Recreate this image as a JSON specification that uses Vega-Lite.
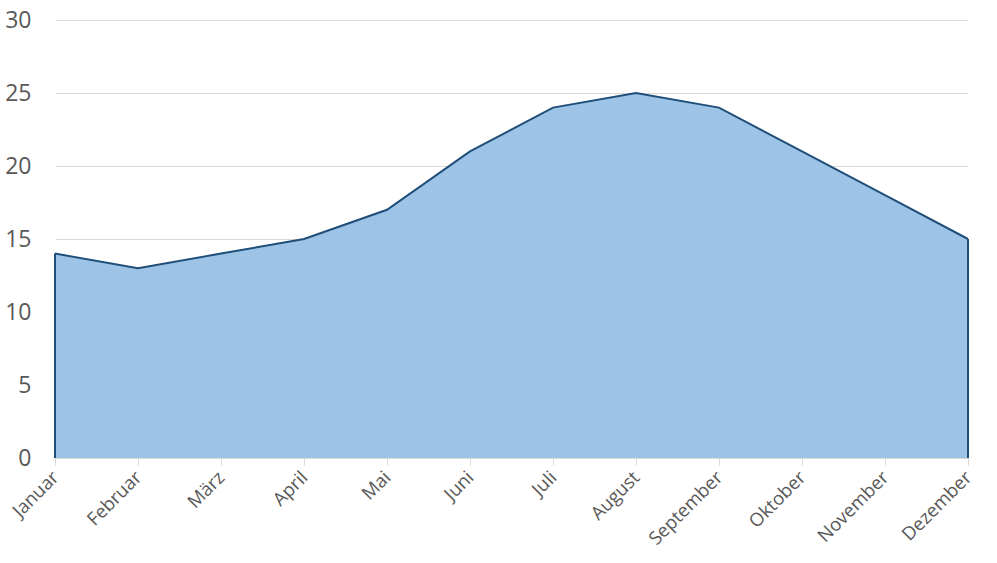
{
  "$schema": "https://vega.github.io/schema/vega-lite/v6.json",
  "width": 913,
  "height": 438,
  "autosize": {"type": "none"},
  "padding": {"left": 55, "top": 20, "right": 29, "bottom": 105},
  "background": "white",
  "config": {
    "view": {"stroke": null},
    "font": "Open Sans"
  },
  "data": {
    "values": [
      {"Monat": "Januar", "Wert": 14},
      {"Monat": "Februar", "Wert": 13},
      {"Monat": "März", "Wert": 14},
      {"Monat": "April", "Wert": 15},
      {"Monat": "Mai", "Wert": 17},
      {"Monat": "Juni", "Wert": 21},
      {"Monat": "Juli", "Wert": 24},
      {"Monat": "August", "Wert": 25},
      {"Monat": "September", "Wert": 24},
      {"Monat": "Oktober", "Wert": 21},
      {"Monat": "November", "Wert": 18},
      {"Monat": "Dezember", "Wert": 15}
    ]
  },
  "encoding": {
    "x": {
      "field": "Monat",
      "type": "ordinal",
      "sort": null,
      "scale": {"type": "point", "padding": 0},
      "axis": {
        "title": null,
        "labelAngle": -45,
        "labelAlign": "right",
        "labelBaseline": "middle",
        "labelFontSize": 18.5,
        "labelColor": "#595959",
        "labelPadding": 9,
        "tickColor": "#d9d9d9",
        "tickSize": 7,
        "domainColor": "#d9d9d9",
        "domainWidth": 1,
        "grid": false,
        "zindex": 1
      }
    },
    "y": {
      "field": "Wert",
      "type": "quantitative",
      "scale": {"domain": [0, 30], "nice": false},
      "axis": {
        "title": null,
        "values": [0, 5, 10, 15, 20, 25, 30],
        "labelFontSize": 23,
        "labelColor": "#595959",
        "labelPadding": 24,
        "ticks": false,
        "domain": false,
        "gridColor": "#d9d9d9",
        "gridWidth": 1
      }
    }
  },
  "layer": [
    {"mark": {"type": "area", "color": "#9dc3e6", "opacity": 1}},
    {"mark": {"type": "line", "color": "#1f4e79", "strokeWidth": 2}},
    {
      "transform": [{"filter": "datum.Monat === 'Januar' || datum.Monat === 'Dezember'"}],
      "mark": {"type": "rule", "color": "#1f4e79", "strokeWidth": 2},
      "encoding": {"y": {"datum": 0, "type": "quantitative"}, "y2": {"field": "Wert"}}
    }
  ]
}
